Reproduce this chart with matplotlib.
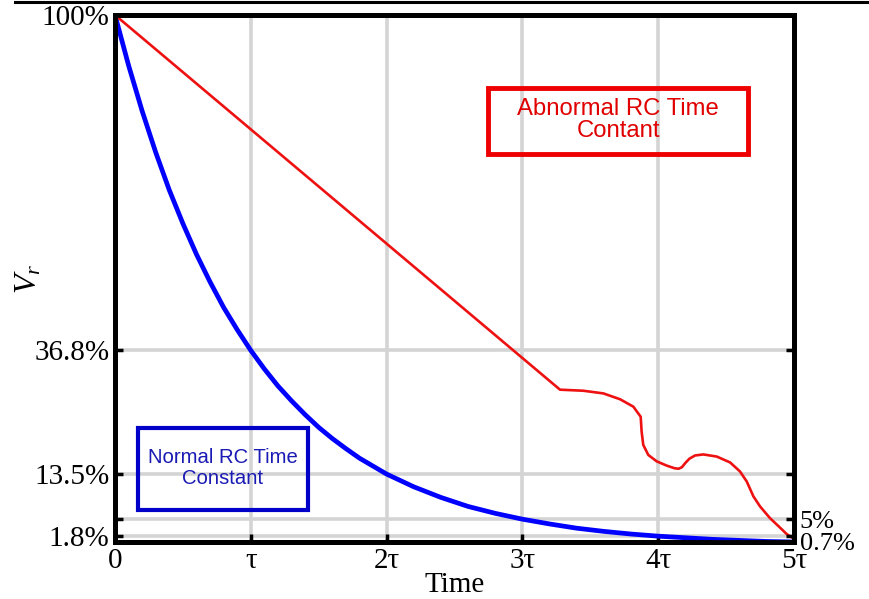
import matplotlib.pyplot as plt
from matplotlib.patches import Rectangle
from matplotlib.lines import Line2D

SERIF = ["Liberation Serif", "DejaVu Serif"]
SANS = ["Liberation Sans", "DejaVu Sans"]
plt.rcParams.update({"font.family": SERIF, "mathtext.fontset": "custom",
                     "mathtext.it": "Liberation Serif:italic", "mathtext.rm": "Liberation Serif"})

BLUE, RED, GRID = "#0000ff", "#ee1111", "#d4d4d4"

# normal RC discharge (percent of V)
normal_t = [0.0, 0.1, 0.2, 0.3, 0.4, 0.5, 0.6, 0.7, 0.8, 0.9, 1.0, 1.1, 1.2, 1.3, 1.4,
            1.5, 1.6, 1.7, 1.8, 1.9, 2.0, 2.2, 2.4, 2.6, 2.8, 3.0, 3.2, 3.4, 3.6, 3.8,
            4.0, 4.2, 4.4, 4.6, 4.8, 5.0]
normal_v = [100.0, 90.5, 81.9, 74.1, 67.0, 60.7, 54.9, 49.7, 44.9, 40.7, 36.8, 33.3, 30.1,
            27.3, 24.7, 22.3, 20.2, 18.3, 16.5, 15.0, 13.5, 11.1, 9.1, 7.4, 6.1, 5.0, 4.1,
            3.3, 2.7, 2.2, 1.8, 1.5, 1.2, 1.0, 0.8, 0.7]

# abnormal trace (straight drop, then the wobbly tail)
abn_t = [0.0, 3.277, 3.449, 3.596, 3.719, 3.817, 3.871, 3.878, 3.890, 3.927,
         3.989, 4.062, 4.120, 4.150, 4.175, 4.200, 4.230, 4.271, 4.332, 4.431, 4.529,
         4.602, 4.652, 4.701, 4.750, 4.823, 4.885, 4.946, 5.0]
abn_v = [100.0, 29.4, 29.2, 28.7, 27.6, 26.2, 24.3, 21.5, 19.0, 17.1,
         15.9, 15.1, 14.6, 14.5, 14.8, 15.6, 16.4, 17.0, 17.2, 16.8, 15.7,
         14.0, 12.1, 9.3, 7.4, 5.2, 3.7, 2.2, 1.3]

x_ticks = [0, 1, 2, 3, 4, 5]
x_labels = ["0", "\u03c4", "2\u03c4", "3\u03c4", "4\u03c4", "5\u03c4"]
left_ticks = [100, 36.8, 13.5, 5, 1.8]
left_labels = ["100%", "36.8%", "13.5%", "", "1.8%"]
right_ticks = [36.8, 13.5, 5, 1.8, 0.7]
right_labels = ["", "", "5%", "", "0.7%"]
grid_x = [1, 2, 3, 4]
grid_y = [36.8, 13.5, 5, 1.8]

W, H = 869, 599
fig = plt.figure(figsize=(W / 100, H / 100), dpi=100)
fig.patch.set_facecolor("white")
ax = fig.add_axes([115 / W, 57 / H, 679 / W, 527 / H])
ax.set_xlim(0, 5); ax.set_ylim(0.7, 100)

for gx in grid_x: ax.axvline(gx, color=GRID, lw=2.6, zorder=0)
for gy in grid_y: ax.axhline(gy, color=GRID, lw=2.6, zorder=0)

ax.plot(normal_t, normal_v, color=BLUE, lw=3.4, zorder=3, solid_joinstyle="round")
ax.plot(abn_t, abn_v, color=RED, lw=1.9, zorder=3, solid_joinstyle="round")

ax.set_xticks(x_ticks); ax.set_xticklabels(x_labels)
ax.set_yticks(left_ticks); ax.set_yticklabels(left_labels)
ax.tick_params(direction="in", length=6, width=2.5, labelsize=21, colors="black")
ax.tick_params(axis="x", pad=4)
ax.tick_params(axis="y", pad=4)

ax2 = ax.twinx(); ax2.set_ylim(0.7, 100)
ax2.set_yticks(right_ticks); ax2.set_yticklabels(right_labels)
ax2.tick_params(direction="in", length=6, width=2.5, labelsize=19, pad=4)

for a in (ax, ax2):
    for s in a.spines.values():
        s.set_linewidth(3.5); s.set_color("black")

ax.set_xlabel("Time", fontsize=21, labelpad=-1)
ax.set_ylabel("$V_r$", fontsize=23)
ax.yaxis.set_label_coords(-0.105, 0.5)

# annotation boxes
fig.add_artist(Rectangle((488 / W, 1 - 154 / H), 260 / W, 66 / H, transform=fig.transFigure,
                         fill=False, ec="#ee0000", lw=3.5))
fig.text(618 / W, 1 - 120 / H, "Abnormal RC Time\nContant", family=SANS, fontsize=17.2,
         color="#e00000", ha="center", va="center", linespacing=1.05)
fig.add_artist(Rectangle((138 / W, 1 - 510 / H), 170 / W, 82 / H, transform=fig.transFigure,
                         fill=False, ec="#0000c8", lw=3.0))
fig.text(223 / W, 1 - 468 / H, "Normal RC Time\nConstant", family=SANS, fontsize=14.6,
         color="#1a1ab4", ha="center", va="center", linespacing=1.1)

# thin black rule along the top edge
fig.add_artist(Line2D([15 / W, 868 / W], [1 - 1.5 / H] * 2, transform=fig.transFigure,
                      color="black", lw=2.2))

fig.savefig("out.png", dpi=100, facecolor="white")
